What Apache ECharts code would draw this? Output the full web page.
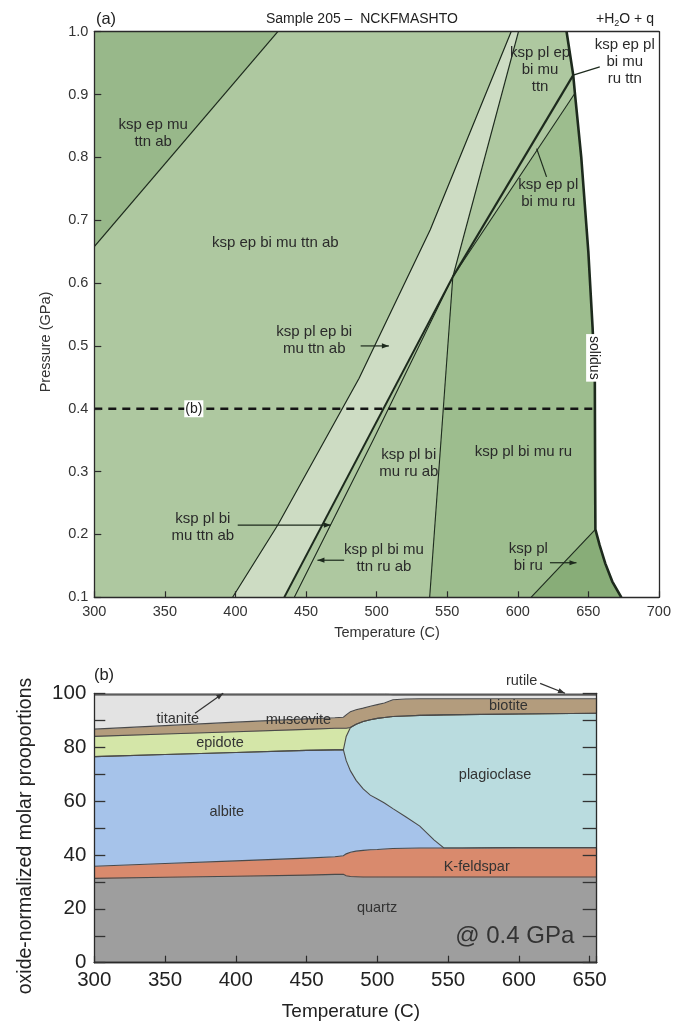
<!DOCTYPE html>
<html><head><meta charset="utf-8">
<script src="https://cdn.jsdelivr.net/npm/echarts@6/dist/echarts.min.js"></script>
<style>html,body{margin:0;padding:0;background:#fff}#c{width:674px;height:1026px}</style>
</head><body><div id="c"></div>
<script>
// ===== (a) Phase diagram: boundaries as [Temperature (C), Pressure (GPa)] =====
const upperLeftLine = [[300,0.658],[430,1.0]];
const lineA = [[398,0.1],[430,0.215],[487.6,0.4485],[538,0.685],[595.3,1.0]];
const lineBLower = [[434.6,0.1],[554,0.61]];
const lineBUpper = [[554,0.61],[600.5,1.0]];
const lineC = [[441.7,0.1],[497.5,0.35],[554,0.61]];
const steepLine = [[537.6,0.1],[554,0.61]];
const thickUpper = [[554,0.61],[639.3,0.931]];
const thinUpper = [[554,0.61],[640.5,0.902]];
const solidus = [[634.6,1.0],[639.3,0.931],[640.5,0.902],[645,0.8],[650,0.65],[653,0.53],[654.6,0.45],[654.8,0.3],[655,0.208],[658,0.183],[662,0.154],[667,0.125],[673.4,0.1]];
const biRuLine = [[609.4,0.1],[655,0.208]];
const sectionLine = [[300,0.4],[655,0.4]];

const fieldLabels = ['ksp ep mu\nttn ab','ksp ep bi mu ttn ab','ksp pl ep bi\nmu ttn ab','ksp pl bi\nmu ttn ab','ksp pl bi mu\nttn ru ab','ksp pl bi\nmu ru ab','ksp pl bi mu ru','ksp pl\nbi ru','ksp pl ep\nbi mu\nttn','ksp ep pl\nbi mu\nru ttn','ksp ep pl\nbi mu ru'];
const fieldLabelPos = [[341.7,0.838],[428.2,0.664],[455.8,0.509],[376.9,0.212],[505.2,0.162],[522.8,0.313],[604,0.332],[607.5,0.164],[615.8,0.939],[675.8,0.952],[621.6,0.743]];
// pointer lines [T1,P1,T2,P2,hasHead]
const fieldPointers = [[488.7,0.5,508.7,0.5,1],[401.6,0.215,467.6,0.215,1],[477,0.159,458.1,0.159,1],[622.8,0.155,641.6,0.155,1],[658.1,0.944,639.3,0.931,0],[620.4,0.769,613.4,0.814,0]];
const solidusLabelPos = [[654.1,0.481]];
const sectionLabelPos = [[370.5,0.4]];

// ===== (b) Modal proportions (oxide-normalized molar %) at 0.4 GPa =====
const tempB = [300,350,400,450,470,476,478,481,485,490,495,500,505,511,520,530,540,547,560,600,655];
const quartzB = [31.3,31.7,32.1,32.5,32.8,32.8,32.3,32.0,31.9,31.8,31.8,31.8,31.8,31.8,31.8,31.8,31.8,31.8,31.8,31.8,31.8];
const kfeldsparB = [4.5,5.1,5.7,6.3,6.5,6.9,8.1,9.0,9.5,9.9,10.1,10.2,10.4,10.6,10.7,10.8,10.8,10.8,10.8,10.9,10.9];
const albiteB = [40.7,40.5,40.2,40.0,39.7,39.3,34.6,30.2,26.3,22.8,20.3,18.8,17.1,14.8,11.7,8.1,3.0,0,0,0,0];
const plagioclaseB = [0,0,0,0,0,0,9.0,16.1,20.8,25.0,28.0,29.9,31.7,34.2,37.4,41.1,46.3,49.4,49.5,49.6,49.9];
const epidoteB = [7.5,7.6,7.7,7.8,8.0,8.0,3.0,0,0,0,0,0,0,0,0,0,0,0,0,0,0];
const biotiteB = [2.7,3.1,3.6,3.9,3.9,4.1,5.0,5.9,5.4,5.0,5.0,5.1,5.4,6.2,6.3,6.2,6.1,6.0,5.9,5.7,5.4];
const muscoviteB = [12.7,11.4,10.1,8.9,8.5,8.3,7.4,6.2,5.5,4.9,4.2,3.6,3.0,1.8,1.5,1.4,1.4,1.4,1.4,1.4,1.4];
const titaniteB = [0.6,0.6,0.6,0.6,0.6,0.6,0.6,0.6,0.6,0.6,0.6,0.6,0.6,0,0,0,0,0,0,0,0];
const rutileB = [0,0,0,0,0,0,0,0,0,0,0,0,0,0.6,0.6,0.6,0.6,0.6,0.6,0.6,0.6];

const mineralLabels = ['titanite','muscovite','epidote','albite','quartz','K-feldspar','plagioclase','biotite','rutile'];
const mineralLabelPos = [[359,90.5],[444.2,90.1],[388.8,81.4],[393.6,56.0],[499.8,20.3],[570.2,35.6],[583.2,69.7],[592.6,95.3],[602,104.5]];
const mineralPointers = [[371.2,92.6,391.1,100,1],[615,103.7,632.6,100,1]];
const sectionNotePos = [[597.1,9.65]];

// ===== rendering =====
const FONT = '"Liberation Sans", Arial, Helvetica, sans-serif';
const INK = '#1d2a1d';

function polygonSeries(points, fill) {
  return {type:'custom', xAxisIndex:0, yAxisIndex:0, z:1, silent:true, clip:true,
    data: points, encode:{x:0, y:1},
    renderItem(params, api) {
      if (params.dataIndex !== 0) return null;
      return {type:'polygon', shape:{points: points.map(p => api.coord(p))}, style:{fill: fill}};
    }};
}
function polylineSeries(points, width, dash, color) {
  return {type:'custom', xAxisIndex:0, yAxisIndex:0, z:3, silent:true, clip:true,
    data: points, encode:{x:0, y:1},
    renderItem(params, api) {
      if (params.dataIndex !== 0) return null;
      return {type:'polyline', shape:{points: points.map(p => api.coord(p))},
        style:{stroke: color || INK, lineWidth: width, fill: null, lineDash: dash || null}};
    }};
}
function pointerSeries(rows, xi, yi, color) {
  return {type:'custom', xAxisIndex:xi, yAxisIndex:yi, z:6, silent:true, clip:false,
    data: rows, encode:{x:[0,2], y:[1,3]},
    renderItem(params, api) {
      const a = api.coord([api.value(0), api.value(1)]);
      const b = api.coord([api.value(2), api.value(3)]);
      const children = [{type:'line', shape:{x1:a[0], y1:a[1], x2:b[0], y2:b[1]}, style:{stroke: color, lineWidth: 1.2}}];
      if (api.value(4)) {
        const dx = b[0]-a[0], dy = b[1]-a[1], L = Math.hypot(dx,dy), ux = dx/L, uy = dy/L;
        const hl = 7, hw = 2.6;
        children.push({type:'polygon', shape:{points:[[b[0],b[1]],[b[0]-ux*hl-uy*hw, b[1]-uy*hl+ux*hw],[b[0]-ux*hl+uy*hw, b[1]-uy*hl-ux*hw]]}, style:{fill: color}});
      }
      return {type:'group', children};
    }};
}
function labelSeries(pos, texts, xi, yi, size, color, extra) {
  extra = extra || {};
  return {type:'custom', xAxisIndex:xi, yAxisIndex:yi, z:7, silent:true, clip:false,
    data: pos, encode:{x:0, y:1},
    renderItem(params, api) {
      const p = api.coord([api.value(0), api.value(1)]);
      return {type:'text', x:p[0], y:p[1], rotation: extra.rotation || 0,
        style: Object.assign({text: texts[params.dataIndex], fontSize: size, fontFamily: FONT, fill: color,
          align:'center', verticalAlign:'middle', lineHeight: extra.lineHeight || Math.round(size*1.15)}, extra.style || {})};
    }};
}

const mainField = [[300,0.1]].concat(solidus.slice().reverse()).concat([[300,1.0]]);
const darkField = upperLeftLine.concat([[300,1.0]]);
const paleBand = lineA.concat(lineBUpper.slice().reverse()).concat(lineBLower.slice().reverse());
const muRuField = steepLine.concat(thinUpper.slice(1)).concat(solidus.filter(p => p[1] < 0.902 && p[1] >= 0.208)).concat([biRuLine[0]]);
const biRuField = biRuLine.concat(solidus.filter(p => p[1] < 0.208));

// stacked layers for (b), drawn through the axis scales of grid 1
const minerals = [
  [quartzB, '#9e9e9e'],
  [kfeldsparB, '#d98a6d'],
  [albiteB, '#a6c3ea'],
  [plagioclaseB, '#badcdf'],
  [epidoteB, '#d4e6a8'],
  [biotiteB, '#b39c7d'],
  [muscoviteB, '#e3e3e3'],
  [titaniteB, '#9a9a9a'],
  [rutileB, '#8a8a8a']
];
function layerBase(k, i) { let s = 0; for (let j = 0; j < k; j++) s += minerals[j][0][i]; return s; }
const layerFillSeries = minerals.map((m, k) => ({
  type:'custom', xAxisIndex:2, yAxisIndex:2, z:2, silent:true, clip:true,
  data: tempB.map((t, i) => [t, m[0][i]]), encode:{x:0, y:1},
  renderItem(params, api) {
    if (params.dataIndex !== 0) return null;
    const up = [], lo = [];
    tempB.forEach((t, i) => { const b = layerBase(k, i); lo.push(api.coord([t, b])); up.push(api.coord([t, b + m[0][i]])); });
    return {type:'polygon', shape:{points: up.concat(lo.reverse())}, style:{fill: m[1], stroke: m[1], lineWidth: 0.6}};
  }
}));
const layerLineSeries = minerals.slice(0, 7).map((m, k) => ({
  type:'custom', xAxisIndex:2, yAxisIndex:2, z:3, silent:true, clip:true,
  data: tempB.map((t, i) => [t, m[0][i]]), encode:{x:0, y:1},
  renderItem(params, api) {
    if (params.dataIndex !== 0) return null;
    const up = tempB.map((t, i) => api.coord([t, layerBase(k, i) + m[0][i]]));
    return {type:'polyline', shape:{points: up}, style:{stroke:'#4a4a4a', lineWidth:1.1, fill:null}};
  }
}));

const axisInk = {lineStyle:{color:'#2a2a2a', width:1.3}};
const option = {
  animation:false,
  textStyle:{fontFamily:FONT},
  grid:[
    {left:94.3, top:31.7, width:566.7, height:565.6, show:false},
    {left:94.3, top:693.3, width:502.4, height:269.4, show:false}
  ],
  xAxis:[
    {gridIndex:0, type:'value', min:300, max:700, interval:50, position:'bottom', z:10,
      axisLine:axisInk, axisTick:{inside:true, length:6, lineStyle:{color:'#2a2a2a', width:1.2}},
      axisLabel:{color:'#333', fontSize:14.5, margin:7}, splitLine:{show:false}},
    {gridIndex:0, type:'value', min:300, max:700, position:'top', z:10,
      axisLine:axisInk, axisTick:{show:false}, axisLabel:{show:false}, splitLine:{show:false}},
    {gridIndex:1, type:'value', min:300, max:655, interval:50, position:'bottom', z:10,
      axisLine:axisInk, axisTick:{inside:true, length:7, lineStyle:{color:'#2a2a2a', width:1.2}},
      axisLabel:{color:'#222', fontSize:20.5, margin:7, formatter: v => (v % 50 === 0 ? String(v) : '')}, splitLine:{show:false}},
    {gridIndex:1, type:'value', min:300, max:655, position:'top', z:10,
      axisLine:axisInk, axisTick:{show:false}, axisLabel:{show:false}, splitLine:{show:false}}
  ],
  yAxis:[
    {gridIndex:0, type:'value', min:0.1, max:1.0, interval:0.1, position:'left', z:10,
      axisLine:axisInk, axisTick:{inside:true, length:7, lineStyle:{color:'#2a2a2a', width:1.2}},
      axisLabel:{color:'#333', fontSize:14.5, margin:6, formatter: v => v.toFixed(1)}, splitLine:{show:false}},
    {gridIndex:0, type:'value', min:0.1, max:1.0, position:'right', z:10,
      axisLine:axisInk, axisTick:{show:false}, axisLabel:{show:false}, splitLine:{show:false}},
    {gridIndex:1, type:'value', min:0, max:100, interval:10, position:'left', z:10,
      axisLine:axisInk, axisTick:{inside:true, length:11, lineStyle:{color:'#333', width:1.3}},
      axisLabel:{color:'#222', fontSize:20.5, margin:8, formatter: v => (v % 20 === 0 ? String(v) : '')}, splitLine:{show:false}},
    {gridIndex:1, type:'value', min:0, max:100, interval:10, position:'right', z:10,
      axisLine:axisInk, axisTick:{inside:true, length:14, lineStyle:{color:'#333', width:1.3}},
      axisLabel:{show:false}, splitLine:{show:false}}
  ],
  graphic:[
    {type:'text', x:106, y:19, style:{text:'(a)', fontSize:16.5, fontFamily:FONT, fill:'#222', align:'center', verticalAlign:'middle'}},
    {type:'text', x:266, y:19, style:{text:'Sample 205 \u2013  NCKFMASHTO', fontSize:14, fontFamily:FONT, fill:'#222', align:'left', verticalAlign:'middle'}},
    {type:'text', x:625, y:19, style:{text:'+H{s|2}O + q', fontSize:14, fontFamily:FONT, fill:'#222', align:'center', verticalAlign:'middle',
      rich:{s:{fontSize:9, fontFamily:FONT, fill:'#222', padding:[9,0,0,0]}}}},
    {type:'text', x:46, y:342, rotation:Math.PI/2, style:{text:'Pressure (GPa)', fontSize:14.5, fontFamily:FONT, fill:'#333', align:'center', verticalAlign:'middle'}},
    {type:'text', x:387, y:633, style:{text:'Temperature (C)', fontSize:14.5, fontFamily:FONT, fill:'#333', align:'center', verticalAlign:'middle'}},
    {type:'text', x:104, y:675, style:{text:'(b)', fontSize:16.5, fontFamily:FONT, fill:'#222', align:'center', verticalAlign:'middle'}},
    {type:'text', x:26, y:836, rotation:Math.PI/2, style:{text:'oxide-normalized molar prooportions', fontSize:19.5, fontFamily:FONT, fill:'#222', align:'center', verticalAlign:'middle'}},
    {type:'text', x:351, y:1012, style:{text:'Temperature (C)', fontSize:19, fontFamily:FONT, fill:'#222', align:'center', verticalAlign:'middle'}}
  ],
  series:[
    polygonSeries(mainField, '#aec8a0'),
    polygonSeries(darkField, '#98b88a'),
    polygonSeries(paleBand, '#cddcc3'),
    polygonSeries(muRuField, '#9dbd8e'),
    polygonSeries(biRuField, '#88ad78'),
    polylineSeries(upperLeftLine, 1.2),
    polylineSeries(lineA, 1.2),
    polylineSeries(lineBLower, 1.9),
    polylineSeries(lineBUpper, 1.2),
    polylineSeries(lineC, 1.1),
    polylineSeries(steepLine, 1.1),
    polylineSeries(thickUpper, 2.2),
    polylineSeries(thinUpper, 1.1),
    polylineSeries(biRuLine, 1.1),
    polylineSeries(solidus, 2.6),
    polylineSeries(sectionLine, 2.6, [8,6], '#151515'),
    pointerSeries(fieldPointers, 0, 0, INK),
    labelSeries(fieldLabelPos, fieldLabels, 0, 0, 15, '#2a2a2a', {lineHeight:17}),
    labelSeries(solidusLabelPos, ['solidus'], 0, 0, 14, '#222', {rotation:-Math.PI/2, style:{backgroundColor:'#fff', padding:[0,2,0,2]}}),
    labelSeries(sectionLabelPos, ['(b)'], 0, 0, 14, '#222', {style:{backgroundColor:'#fff', padding:[1,1,0,1]}}),
    ...layerFillSeries,
    ...layerLineSeries,
    pointerSeries(mineralPointers, 2, 2, '#333'),
    labelSeries(mineralLabelPos, mineralLabels, 2, 2, 14.5, '#333'),
    labelSeries(sectionNotePos, ['@ 0.4 GPa'], 2, 2, 24, '#333')
  ]
};
const chart = echarts.init(document.getElementById('c'), null, {renderer:'canvas'});
chart.setOption(option);
</script>
</body></html>
